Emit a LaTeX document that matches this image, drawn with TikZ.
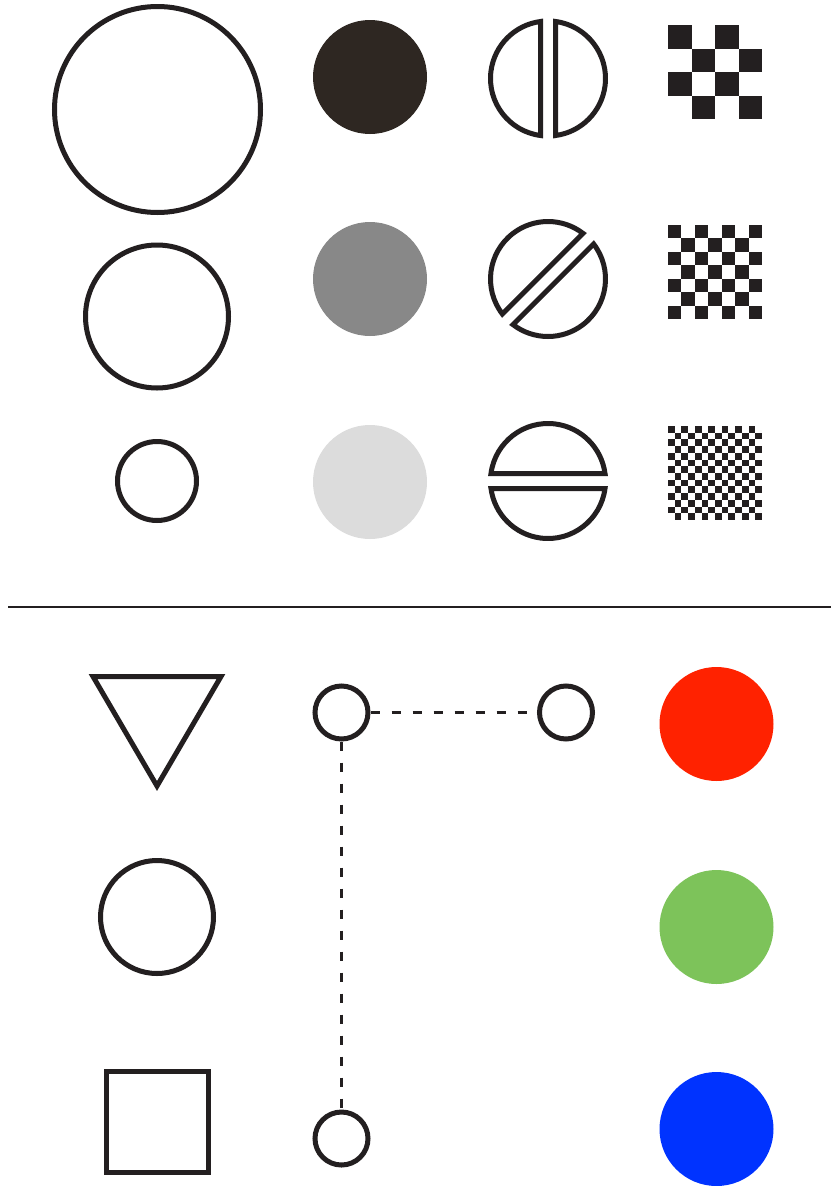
\documentclass[tikz,border=0pt]{standalone}
\definecolor{ink}{RGB}{35,31,32}
\definecolor{darkfill}{RGB}{46,39,34}
\definecolor{midgray}{RGB}{136,136,136}
\definecolor{lightgray}{RGB}{220,220,220}
\definecolor{myred}{RGB}{255,34,0}
\definecolor{mygreen}{RGB}{125,195,90}
\definecolor{myblue}{RGB}{0,51,255}
\newcommand{\mychecker}[4]{%
  \pgfmathsetmacro{\cs}{#3/#4}%
  \foreach \r in {1,...,#4}{%
    \foreach \c in {1,...,#4}{%
      \pgfmathparse{int(mod(\r+\c,2))}%
      \ifnum\pgfmathresult=0
        \fill[ink] ({#1+(\c-1)*\cs},{#2+(\r-1)*\cs}) rectangle ++(\cs,\cs);
      \fi
    }%
  }%
}
\newcommand{\splitcircle}[3]{% x y rotation
  \begin{scope}[shift={(#1,#2)},rotate=#3]
    \draw[outline] (97.5:57.5) arc[start angle=97.5,end angle=262.5,radius=57.5] -- cycle;
    \draw[outline] (-82.5:57.5) arc[start angle=-82.5,end angle=82.5,radius=57.5] -- cycle;
  \end{scope}%
}
\begin{document}
\begin{tikzpicture}[x=1pt,y=-1pt,
  outline/.style={draw=ink,line width=5pt,line join=miter},
  ring/.style={circle,draw=ink,line width=5pt,inner sep=0pt,fill=white},
  disc/.style={circle,inner sep=0pt,minimum size=114pt},
  link/.style={draw=ink,line width=2.5pt,dash pattern=on 9pt off 12pt}]
\useasboundingbox (0,0) rectangle (831,1186);
\fill[white] (0,0) rectangle (831,1186);

% column 1: open circles
\node[ring,minimum size=206pt] (c1) at (157.5,109.5) {};
\node[ring,minimum size=143pt] (c2) at (157,316.5) {};
\node[ring,minimum size=79pt] (c3) at (157,481) {};

% column 2: filled circles
\node[disc,fill=darkfill] (f1) at (370,77) {};
\node[disc,fill=midgray] (f2) at (370,279) {};
\node[disc,fill=lightgray] (f3) at (370,482) {};

% column 3: split circles
\splitcircle{548}{78.5}{0}
\splitcircle{548}{279}{-45}
\splitcircle{548}{481}{90}

% column 4: checkerboards
\mychecker{668}{25}{94}{4}
\mychecker{668}{225}{94}{7}
\mychecker{668}{426}{94}{14}

% separator
\draw[ink,line width=2pt] (8,607) -- (831,607);

% bottom: shapes
\draw[outline] (93,676.5) -- (221,676.5) -- (157,786) -- cycle;
\node[ring,minimum size=113pt] (oc) at (157,917) {};
\draw[outline] (106.5,1071.5) rectangle (208,1172.5);

% bottom: linked small circles
\node[ring,minimum size=53pt] (sa) at (341.5,712.5) {};
\node[ring,minimum size=53pt] (sb) at (566,712.5) {};
\node[ring,minimum size=53pt] (sc) at (341.5,1138.5) {};
\draw[link] (sa.east) -- (sb.west);
\draw[link] (sa.south) -- (sc.north);

% bottom: coloured discs
\node[disc,fill=myred] (r) at (716.5,724) {};
\node[disc,fill=mygreen] (g) at (716.5,927) {};
\node[disc,fill=myblue] (b) at (716.5,1129) {};
\end{tikzpicture}
\end{document}
